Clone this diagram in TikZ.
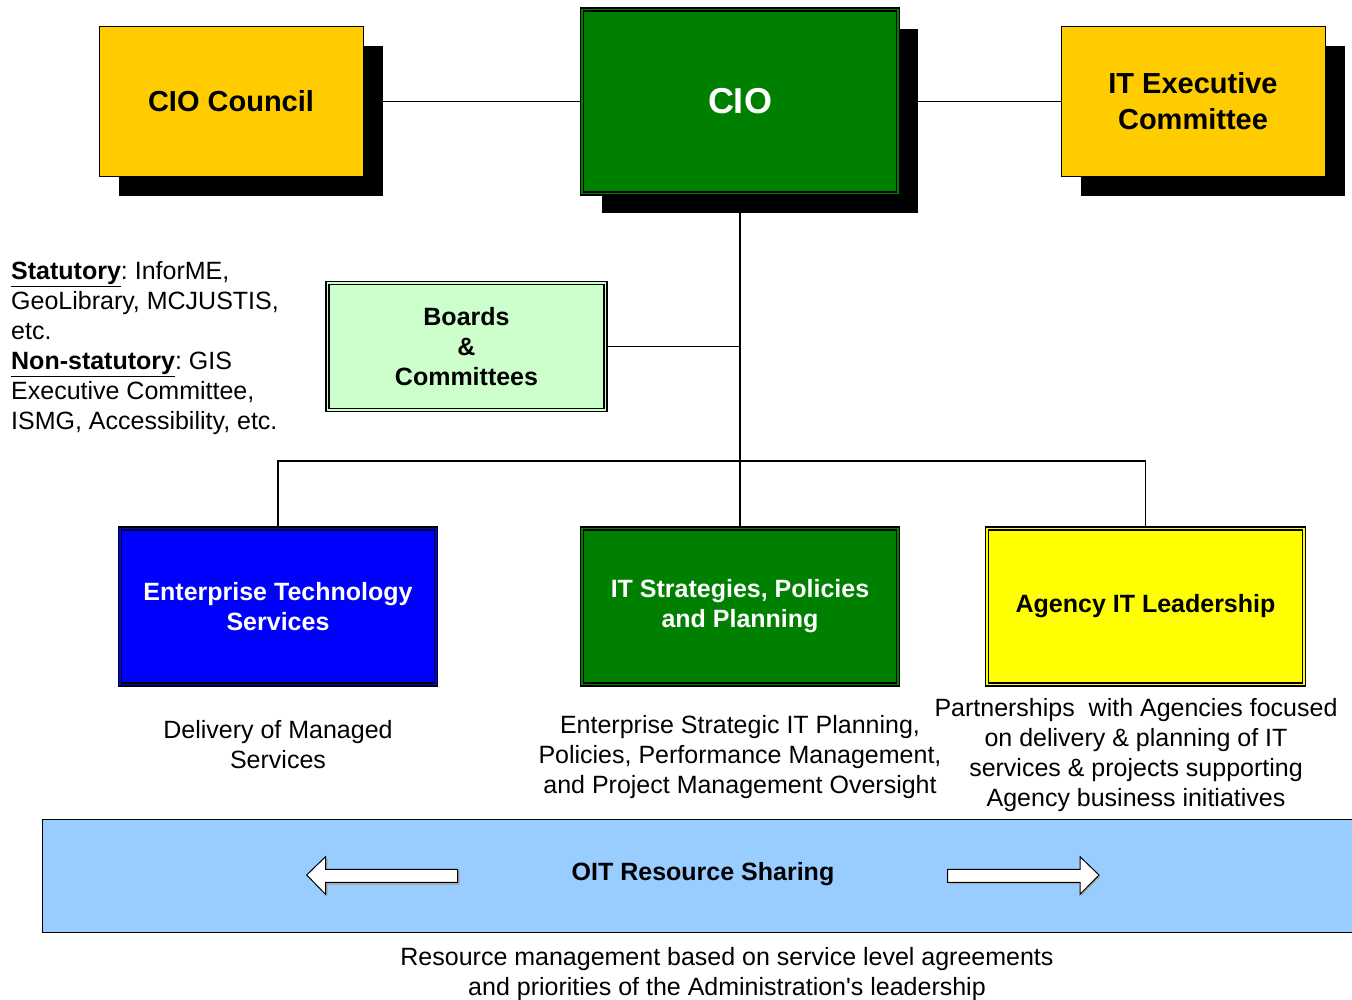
\documentclass[tikz,border=0pt]{standalone}
\usepackage{fontspec}
\setmainfont{Liberation Sans}
\usetikzlibrary{shadows}
\definecolor{gold}{HTML}{FFCC00}
\definecolor{dkgreen}{HTML}{008000}
\definecolor{pblue}{HTML}{0000FF}
\definecolor{pyellow}{HTML}{FFFF00}
\definecolor{mint}{HTML}{CCFFCC}
\definecolor{sky}{HTML}{99CCFF}
\frenchspacing
\begin{document}
\begin{tikzpicture}[x=1pt,y=-1pt,
  box/.style={rectangle, inner sep=0pt, align=center, font=\bfseries\fontsize{25}{30}\selectfont},
  shad/.style={drop shadow={shadow xshift=19.5pt, shadow yshift=-19.5pt, fill=black, opacity=1}},
  single/.style={draw=black, line width=1pt},
  dbl/.style={draw=black, line width=1.3pt, double distance=1.8pt},
  conn/.style={line width=1.2pt, draw=black},
  trunk/.style={line width=1.8pt, draw=black},
  desc/.style={inner sep=0pt, align=center, font=\fontsize{25}{30}\selectfont, anchor=north},
  bigarrow/.style={draw=black, line width=1pt, fill=white}
]
\useasboundingbox (0,0) rectangle (1352,999);

% top row
\node (council) [box, single, shad, fill=gold, minimum width=264, minimum height=150,
  font=\bfseries\fontsize{29}{36}\selectfont] at (231,101.5) {CIO Council};
\node (cio) [box, dbl, double=dkgreen, shad, fill=dkgreen, text=white, minimum width=316, minimum height=184,
  font=\bfseries\fontsize{36}{42}\selectfont] at (740,101.5) {CIO};
\node (itec) [box, single, shad, fill=gold, minimum width=264, minimum height=150,
  font=\bfseries\fontsize{29}{36}\selectfont] at (1193,101.5) {IT Executive\\Committee};

% boards
\node (boards) [box, dbl, double=mint, fill=mint, minimum width=278, minimum height=127] at (466.5,346.5)
  {Boards\\\&\\Committees};

% second row
\node (ets) [box, dbl, double=pblue, fill=pblue, text=white, minimum width=316, minimum height=156] at (278,606.5)
  {Enterprise Technology\\Services};
\node (itsp) [box, dbl, double=dkgreen, fill=dkgreen, text=white, minimum width=316, minimum height=156] at (740,606.5)
  {IT Strategies, Policies\\and Planning};
\node (agency) [box, dbl, double=pyellow, fill=pyellow, minimum width=317, minimum height=156] at (1145.5,606.5)
  {Agency IT Leadership};

\coordinate (hub) at (740,461);

% connectors
\draw[conn] (council.east) -- (cio.west);
\draw[conn] (itec.west) -- (itec.west -| cio.east);
\draw[trunk] (cio.south) -- (hub);
\draw[conn] (boards.east) -- (boards.east -| hub);
\draw[conn] (ets.north) |- (hub) -| (agency.north);
\draw[conn] (hub) -- (itsp.north);

% side text
\node (stat) [inner sep=0pt, align=left, anchor=north west, font=\fontsize{25}{30}\selectfont] at (11,261)
  {\textbf{\underline{Statutory}}: InforME,\\GeoLibrary, MCJUSTIS,\\etc.\\\textbf{\underline{Non-statutory}}: GIS\\Executive Committee,\\ISMG, Accessibility, etc.};

% descriptions
\node (etsdesc) [desc] at (278,720) {Delivery of Managed\\Services};
\node (itspdesc) [desc] at (740,715) {Enterprise Strategic IT Planning,\\Policies, Performance Management,\\and Project Management Oversight};
\node (agdesc) [desc] at (1136,698) {Partnerships\ \ with Agencies focused\\on delivery \& planning of IT\\services \& projects supporting\\Agency business initiatives};

% band
\node (band) [draw=black, line width=1pt, fill=sky, minimum width=1318, minimum height=113, inner sep=0pt] at (701,875.5) {};
\node (oit) [inner sep=0pt, font=\bfseries\fontsize{25}{30}\selectfont] at (703,874.5) {OIT Resource Sharing};

% arrows
\fill[black!35] (308.5,876.5) -- (327.5,858.5) -- (327.5,870.5) -- (459.5,870.5) -- (459.5,884.5) -- (327.5,884.5) -- (327.5,895.5) -- cycle;
\draw[bigarrow] (306.7,875) -- (325.5,856.7) -- (325.5,869.3) -- (457.7,869.3) -- (457.7,882.3) -- (325.5,882.3) -- (325.5,894.3) -- cycle;
\fill[black!35] (949.2,870.8) -- (1081.5,870.8) -- (1081.5,858.2) -- (1100.5,876.5) -- (1081.5,895.8) -- (1081.5,883.8) -- (949.2,883.8) -- cycle;
\draw[bigarrow] (947.7,869.3) -- (1080,869.3) -- (1080,856.7) -- (1099,875) -- (1080,894.3) -- (1080,882.3) -- (947.7,882.3) -- cycle;

% bottom text
\node (bottom) [desc] at (727,947) {Resource management based on service level agreements\\and priorities of the Administration\textquotesingle s leadership};
\end{tikzpicture}
\end{document}
